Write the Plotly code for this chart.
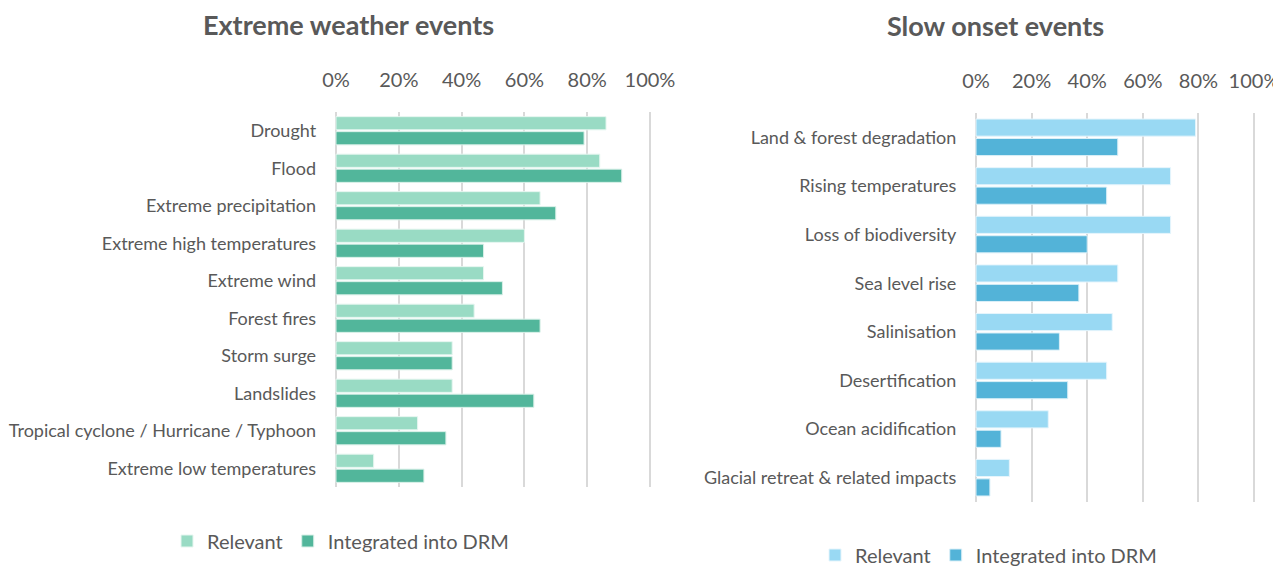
import plotly.graph_objects as go

# page body has an 8px margin; figure sized to fit the window
OFF = 8
W, H = 1281 - OFF, 566 - OFF

ext_categories = ["Drought", "Flood", "Extreme precipitation", "Extreme high temperatures",
                  "Extreme wind", "Forest fires", "Storm surge", "Landslides",
                  "Tropical cyclone / Hurricane / Typhoon", "Extreme low temperatures"]
ext_relevant = [0.86, 0.84, 0.65, 0.60, 0.47, 0.44, 0.37, 0.37, 0.26, 0.12]
ext_integrated = [0.79, 0.91, 0.70, 0.47, 0.53, 0.65, 0.37, 0.63, 0.35, 0.28]

slow_categories = ["Land & forest degradation", "Rising temperatures", "Loss of biodiversity",
                   "Sea level rise", "Salinisation", "Desertification", "Ocean acidification",
                   "Glacial retreat & related impacts"]
slow_relevant = [0.79, 0.70, 0.70, 0.51, 0.49, 0.47, 0.26, 0.12]
slow_integrated = [0.51, 0.47, 0.40, 0.37, 0.30, 0.33, 0.09, 0.05]

series_names = ["Relevant", "Integrated into DRM"]
tick_vals = [0, 0.2, 0.4, 0.6, 0.8, 1.0]
tick_text = ["0%", "20%", "40%", "60%", "80%", "100%"]

FONT = "Lato"
TXT = "#595959"
GRID = "#d9d9d9"
PAD = 0.006

def px_x(p):
    return (p - OFF) / W

def px_y(p):
    return 1 - (p - OFF) / H

fig = go.Figure()
fig.add_trace(go.Bar(y=ext_categories, x=ext_relevant, orientation="h", name=series_names[0],
                     marker=dict(color="#99dbc4", line=dict(color="#e6f6f0", width=1)),
                     xaxis="x", yaxis="y", legend="legend"))
fig.add_trace(go.Bar(y=ext_categories, x=ext_integrated, orientation="h", name=series_names[1],
                     marker=dict(color="#52b69b", line=dict(color="#d9f0e8", width=1)),
                     xaxis="x", yaxis="y", legend="legend"))
fig.add_trace(go.Bar(y=slow_categories, x=slow_relevant, orientation="h", name=series_names[0],
                     marker=dict(color="#99d9f3", line=dict(color="#e6f5fc", width=1)),
                     xaxis="x2", yaxis="y2", legend="legend2"))
fig.add_trace(go.Bar(y=slow_categories, x=slow_integrated, orientation="h", name=series_names[1],
                     marker=dict(color="#53b3d8", line=dict(color="#dbf0f8", width=1)),
                     xaxis="x2", yaxis="y2", legend="legend2"))

xcommon = dict(range=[-PAD, 1.0 + PAD], tickvals=tick_vals, ticktext=tick_text, side="top",
               showgrid=True, gridcolor=GRID, gridwidth=2, zeroline=False,
               showline=False, ticks="", ticklabelstandoff=20,
               tickfont=dict(family=FONT, size=20, color=TXT), fixedrange=True)
ycommon = dict(autorange="reversed", showgrid=False, zeroline=False, showline=False,
               ticks="", ticklabelstandoff=17,
               tickfont=dict(family=FONT, size=18, color=TXT), fixedrange=True)

lw = 314 * PAD
rw = 278 * PAD

fig.update_layout(
    width=W, height=H,
    margin=dict(l=0, r=0, t=0, b=0, autoexpand=False),
    paper_bgcolor="white", plot_bgcolor="white",
    barmode="group", bargap=0.2, bargroupgap=0.12,
    font=dict(family=FONT, color=TXT),
    xaxis=dict(domain=[px_x(336 - lw), px_x(650 + lw)], anchor="y", **xcommon),
    yaxis=dict(domain=[px_y(487), px_y(112)], anchor="x", **ycommon),
    xaxis2=dict(domain=[px_x(976 - rw), px_x(1254 + rw)], anchor="y2", **xcommon),
    yaxis2=dict(domain=[px_y(502), px_y(113)], anchor="x2", **ycommon),
    legend=dict(orientation="h", x=px_x(167), y=px_y(541), yanchor="middle", xanchor="left",
                font=dict(family=FONT, size=20, color=TXT), itemwidth=30,
                bgcolor="rgba(0,0,0,0)"),
    legend2=dict(orientation="h", x=px_x(815), y=px_y(555), yanchor="middle", xanchor="left",
                 font=dict(family=FONT, size=20, color=TXT), itemwidth=30,
                 bgcolor="rgba(0,0,0,0)"),
    showlegend=True,
    annotations=[
        dict(text="<b>Extreme weather events</b>", x=px_x(348), y=px_y(24), xref="paper", yref="paper",
             showarrow=False, xanchor="center", yanchor="middle",
             font=dict(family=FONT, size=27, color=TXT)),
        dict(text="<b>Slow onset events</b>", x=px_x(995), y=px_y(26), xref="paper", yref="paper",
             showarrow=False, xanchor="center", yanchor="middle",
             font=dict(family=FONT, size=27, color=TXT)),
    ],
)

fig.write_html("out.html")
